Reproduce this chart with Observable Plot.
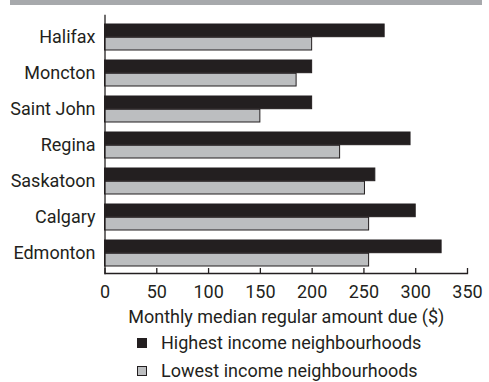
<!DOCTYPE html>
<html>
<head>
<meta charset="utf-8">
<script src="https://cdn.jsdelivr.net/npm/d3@7"></script>
<script src="https://cdn.jsdelivr.net/npm/@observablehq/plot@0.6"></script>
<style>
  html, body { margin: 0; padding: 0; background: #fff; }
  #wrap { position: relative; width: 489px; height: 382px; overflow: hidden; font-family: Roboto, "Liberation Sans", sans-serif; color: #231f20; }
  #band { position: absolute; left: 10px; top: 0; width: 472px; height: 5px; background: #a7a9ac; }
  #chart { position: absolute; left: 0; top: 0; }
  .leg { position: absolute; left: 137px; font-size: 18px; line-height: 18px; white-space: nowrap; }
  .leg .sw { position: absolute; left: 0; top: 0; width: 8px; height: 8px; border: 1px solid #231f20; }
  .leg .lb { position: absolute; left: 24px; top: -4px; }
</style>
</head>
<body>
<div id="wrap">
  <div id="chart"></div>
  <div id="band"></div>
  <div class="leg" id="leg1" style="top:338px"><span class="sw" style="background:#231f20"></span><span class="lb"></span></div>
  <div class="leg" id="leg2" style="top:366px"><span class="sw" style="background:#bcbec0"></span><span class="lb"></span></div>
</div>
<script>
const cities = ["Halifax", "Moncton", "Saint John", "Regina", "Saskatoon", "Calgary", "Edmonton"];
const highest = [270, 200, 200, 295, 261, 300, 325];
const lowest = [200, 185, 150, 227, 251, 255, 255];
const seriesNames = ["Highest income neighbourhoods", "Lowest income neighbourhoods"];
const xTicks = [0, 50, 100, 150, 200, 250, 300, 350];
const xTitle = "Monthly median regular amount due ($)";

const dark = "#231f20";
const gray = "#bcbec0";

const highData = cities.map((c, i) => ({city: c, value: highest[i]}));
const lowData = cities.map((c, i) => ({city: c, value: lowest[i]}));

const half = 13.3;

const plot = Plot.plot({
  width: 489,
  height: 335,
  marginLeft: 104.5,
  marginRight: 22,
  marginTop: 15,
  marginBottom: 62,
  style: {fontFamily: "Roboto, 'Liberation Sans', sans-serif", fontSize: "18px", color: dark, background: "transparent"},
  x: {domain: [0, 350], axis: null},
  y: {domain: cities, range: [10.6, 279.9], padding: 0.281, axis: null},
  marks: [
    Plot.barX(highData, {x: "value", y: "city", fill: dark, stroke: dark, strokeWidth: 1, insetBottom: half}),
    Plot.barX(lowData, {x: "value", y: "city", fill: gray, stroke: dark, strokeWidth: 1, insetTop: half}),
    Plot.axisY({tickSize: 0, tickPadding: 9.5, fontSize: 18, label: null, color: dark}),
    Plot.frame({anchor: "left", stroke: dark, strokeWidth: 1.3}),
    Plot.frame({anchor: "bottom", stroke: dark, strokeWidth: 1.3}),
    Plot.ruleX(xTicks, {x: d => d, insetTop: 253, stroke: dark, strokeWidth: 1.3}),
    Plot.text(xTicks, {x: d => d, text: d => String(d), frameAnchor: "bottom", dy: 24, fontSize: 18, fill: dark}),
    Plot.text([xTitle], {text: d => d, frameAnchor: "bottom", dy: 49, fontSize: 18, fill: dark})
  ]
});
document.getElementById("chart").appendChild(plot);
document.querySelector("#leg1 .lb").textContent = seriesNames[0];
document.querySelector("#leg2 .lb").textContent = seriesNames[1];
</script>
</body>
</html>
